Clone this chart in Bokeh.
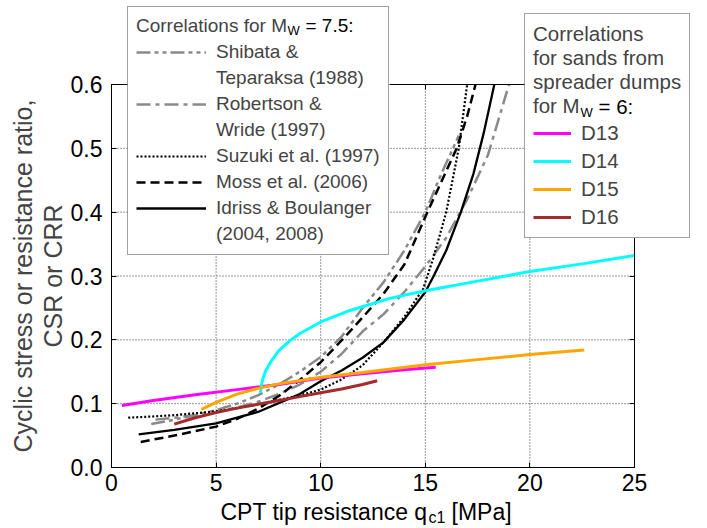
from bokeh.plotting import figure
from bokeh.models import (Range1d, FixedTicker, LinearAxis, Legend, LegendItem, Label,
                          CustomJSTickFormatter, BoxAnnotation)
from bokeh.embed import file_html
from bokeh.resources import INLINE

FONT = "Liberation Sans"

# ---------------- data ----------------
X_TICKS = [0, 5, 10, 15, 20, 25]
Y_TICKS = [0.0, 0.1, 0.2, 0.3, 0.4, 0.5, 0.6]
Y_TICK_LABELS = ["0.0", "0.1", "0.2", "0.3", "0.4", "0.5", "0.6"]
X_GRID = [5, 10, 15, 20]
Y_GRID = [0.1, 0.2, 0.3, 0.4, 0.5]
X_LIM = (0, 25)
Y_LIM = (0.0, 0.6)

shibata_q = [1.9, 3, 4, 5, 6, 7, 8, 9, 10, 11, 12, 13, 14, 15, 15.7, 16.6]
shibata_csr = [0.068, 0.075, 0.082, 0.090, 0.100, 0.113, 0.130, 0.150, 0.173, 0.205, 0.250,
               0.290, 0.340, 0.400, 0.455, 0.520]

robertson_q = [2.1, 3, 4, 5, 6, 7, 8, 9, 10, 11, 12, 13, 14, 15, 16, 17, 18, 19]
robertson_csr = [0.075, 0.078, 0.082, 0.087, 0.094, 0.103, 0.115, 0.130, 0.150, 0.178, 0.213,
                 0.240, 0.275, 0.315, 0.360, 0.420, 0.490, 0.600]

suzuki_q = [0.8, 2, 3, 4, 5, 6, 7, 8, 9, 10, 11, 12, 13, 14, 14.9, 15.4, 16.0, 16.6, 17.0]
suzuki_csr = [0.078, 0.080, 0.082, 0.085, 0.088, 0.093, 0.099, 0.106, 0.113, 0.122, 0.138,
              0.160, 0.196, 0.236, 0.280, 0.330, 0.400, 0.500, 0.600]

moss_q = [1.4, 3, 5, 6, 7, 8, 9, 10, 11, 12, 13, 14, 15.1, 15.8, 16.5, 17.0, 17.4]
moss_csr = [0.040, 0.050, 0.064, 0.076, 0.092, 0.112, 0.137, 0.165, 0.199, 0.235, 0.272,
            0.318, 0.400, 0.450, 0.500, 0.550, 0.600]

idriss_q = [1.3, 3, 5, 7, 9, 10, 11, 12, 13, 14, 15, 15.4, 16, 16.7, 17.3, 17.8, 18.3]
idriss_csr = [0.052, 0.059, 0.069, 0.087, 0.115, 0.135, 0.152, 0.172, 0.196, 0.232, 0.275,
              0.300, 0.340, 0.400, 0.460, 0.525, 0.600]

d13_q = [0.5, 2, 4, 6, 8, 10, 12, 14, 15.5]
d13_csr = [0.097, 0.105, 0.114, 0.122, 0.130, 0.140, 0.147, 0.153, 0.157]

d14_q = [7.12, 7.15, 7.22, 7.35, 7.6, 8.0, 8.5, 9.0, 10, 11.4, 13.3, 15, 17.5, 20, 22.5, 25]
d14_csr = [0.117, 0.126, 0.137, 0.150, 0.165, 0.183, 0.198, 0.210, 0.228, 0.246, 0.265,
           0.277, 0.292, 0.307, 0.319, 0.332]

d15_q = [4.3, 5, 6, 7, 8, 10, 12, 15, 17.5, 20, 22.6]
d15_csr = [0.091, 0.102, 0.115, 0.124, 0.131, 0.1415, 0.149, 0.161, 0.169, 0.177, 0.184]

d16_q = [3.0, 4, 5, 6, 7, 8, 9, 10, 11, 12, 12.7]
d16_csr = [0.068, 0.078, 0.086, 0.093, 0.099, 0.105, 0.111, 0.117, 0.123, 0.130, 0.136]

GRAY = "#8a8a8a"

# ---------------- layout: the frame covers the whole canvas ----------------
W, H = 707, 528
PL, PR, PT, PB = 111, 634, 84, 467          # pixel box of the axes area
kx = (PR - PL) / (X_LIM[1] - X_LIM[0])
ky = (PB - PT) / (Y_LIM[1] - Y_LIM[0])
x_rng = Range1d(X_LIM[0] - PL / kx, X_LIM[1] + (W - PR) / kx)
y_rng = Range1d(Y_LIM[0] - (H - PB) / ky, Y_LIM[1] + PT / ky)

p = figure(width=W, height=H, x_range=x_rng, y_range=y_rng,
           output_backend="svg", toolbar_location=None,
           min_border_left=0, min_border_right=0, min_border_top=0, min_border_bottom=0)
p.outline_line_color = None
p.background_fill_color = "white"
p.border_fill_color = "white"
p.xgrid.visible = False
p.ygrid.visible = False


def style_axis(ax, ticks, bounds, loc, show_labels):
    ax.ticker = FixedTicker(ticks=ticks)
    ax.bounds = bounds
    ax.fixed_location = loc
    ax.major_tick_in = 5
    ax.major_tick_out = 0
    ax.minor_tick_line_color = None
    ax.axis_line_color = "black"
    ax.axis_line_width = 1
    ax.major_tick_line_color = "black"
    ax.major_label_text_font = FONT
    ax.major_label_text_font_size = "23px"
    ax.major_label_text_color = "black"
    if not show_labels:
        ax.formatter = CustomJSTickFormatter(code="return ''")


xb = p.xaxis[0]
yl = p.yaxis[0]
style_axis(xb, X_TICKS, X_LIM, Y_LIM[0], True)
style_axis(yl, Y_TICKS, Y_LIM, X_LIM[0], True)
xb.major_label_standoff = 6
yl.major_label_standoff = 9
yl.major_label_overrides = {t: s for t, s in zip(Y_TICKS, Y_TICK_LABELS)}
yl.axis_label = "Cyclic stress or resistance ratio,\nCSR or CRR"
yl.axis_label_text_font = FONT
yl.axis_label_text_font_size = "25px"
yl.axis_label_text_font_style = "normal"
yl.axis_label_text_line_height = 1.07
yl.axis_label_standoff = 1

top_ax = LinearAxis()
style_axis(top_ax, X_TICKS, X_LIM, Y_LIM[1], False)
p.add_layout(top_ax, "above")
right_ax = LinearAxis()
style_axis(right_ax, Y_TICKS, Y_LIM, X_LIM[1], False)
p.add_layout(right_ax, "right")

# dotted grid, limited to the axes box
p.segment(x0=X_GRID, x1=X_GRID, y0=[Y_LIM[0]] * len(X_GRID), y1=[Y_LIM[1]] * len(X_GRID),
          line_color="#333333", line_width=1, line_dash="1 2")
p.segment(x0=[X_LIM[0]] * len(Y_GRID), x1=[X_LIM[1]] * len(Y_GRID), y0=Y_GRID, y1=Y_GRID,
          line_color="#333333", line_width=1, line_dash="1 2")

# ---------------- curves ----------------
r_shi = p.line(shibata_q, shibata_csr, line_color=GRAY, line_width=2.5, line_dash="14 4 4 4 4 4")
r_rob = p.line(robertson_q, robertson_csr, line_color=GRAY, line_width=2.5, line_dash="14 5 4 5")
r_suz = p.line(suzuki_q, suzuki_csr, line_color="black", line_width=2.2, line_dash="2 2")
r_mos = p.line(moss_q, moss_csr, line_color="black", line_width=2.5, line_dash="9 5")
r_idr = p.line(idriss_q, idriss_csr, line_color="black", line_width=2.3)

r_d13 = p.line(d13_q, d13_csr, line_color="#ff00ff", line_width=3)
r_d14 = p.line(d14_q, d14_csr, line_color="#00ffff", line_width=3)
r_d15 = p.line(d15_q, d15_csr, line_color="#ffa500", line_width=3)
r_d16 = p.line(d16_q, d16_csr, line_color="#a52a2a", line_width=3)

dummy = p.line([], [], line_alpha=0)


def sx(px):
    return px


def sy(py):
    return H - py


# white panels behind the (transparent) legends
def panel(left, right, top, bottom):
    b = BoxAnnotation(left=sx(left), right=sx(right), top=sy(top), bottom=sy(bottom),
                      left_units="screen", right_units="screen",
                      top_units="screen", bottom_units="screen",
                      fill_color="white", fill_alpha=1.0, line_color=None,
                      level="annotation")
    p.add_layout(b)


panel(127, 389, 7, 254)
panel(524, 693, 12, 237.5)


def lab(x, y, text, size, baseline="middle"):
    l = Label(x=sx(x), y=sy(y), x_units="screen", y_units="screen", text=text,
              text_font=FONT, text_font_size=size, text_baseline=baseline,
              text_color="black", level="overlay")
    p.add_layout(l)


# subscripts in legend titles
lab(287, 30, "W", "13px")
lab(305, 24.5, "= 7.5:", "19px")
lab(580, 112, "W", "13px")
lab(598, 106, "= 6:", "20.5px")

# x-axis label with subscript
lab(220, 511, "CPT tip resistance q", "23px")
lab(428, 517, "c1", "16px")
lab(451, 511, "[MPa]", "23px")

# ---------------- legends ----------------
leg1 = Legend(items=[
    LegendItem(label="Shibata &", renderers=[r_shi]),
    LegendItem(label="Teparaksa (1988)", renderers=[dummy]),
    LegendItem(label="Robertson &", renderers=[r_rob]),
    LegendItem(label="Wride (1997)", renderers=[dummy]),
    LegendItem(label="Suzuki et al. (1997)", renderers=[r_suz]),
    LegendItem(label="Moss et al. (2006)", renderers=[r_mos]),
    LegendItem(label="Idriss & Boulanger", renderers=[r_idr]),
    LegendItem(label="(2004, 2008)", renderers=[dummy]),
], location=(sx(127), sy(255)), title="Correlations for M",
    title_text_font=FONT, title_text_font_size="19px", title_text_font_style="normal",
    title_standoff=3, label_text_font=FONT, label_text_font_size="19px",
    glyph_width=70, glyph_height=24, label_height=24, label_standoff=10, spacing=2,
    padding=8, margin=0, border_line_color="#444444", border_line_width=1,
    background_fill_alpha=0)
p.add_layout(leg1)

leg2 = Legend(items=[
    LegendItem(label="D13", renderers=[r_d13]),
    LegendItem(label="D14", renderers=[r_d14]),
    LegendItem(label="D15", renderers=[r_d15]),
    LegendItem(label="D16", renderers=[r_d16]),
], location=(sx(524), sy(237.5)), title="Correlations\nfor sands from\nspreader dumps\nfor M",
    title_text_font=FONT, title_text_font_size="20.5px", title_text_font_style="normal",
    title_standoff=3, label_text_font=FONT, label_text_font_size="20.5px",
    glyph_width=38, glyph_height=24, label_height=24, label_standoff=10, spacing=4,
    padding=8, margin=0, border_line_color="#444444", border_line_width=1,
    background_fill_alpha=0)
p.add_layout(leg2)

open("out.html", "w").write(file_html(p, INLINE))
